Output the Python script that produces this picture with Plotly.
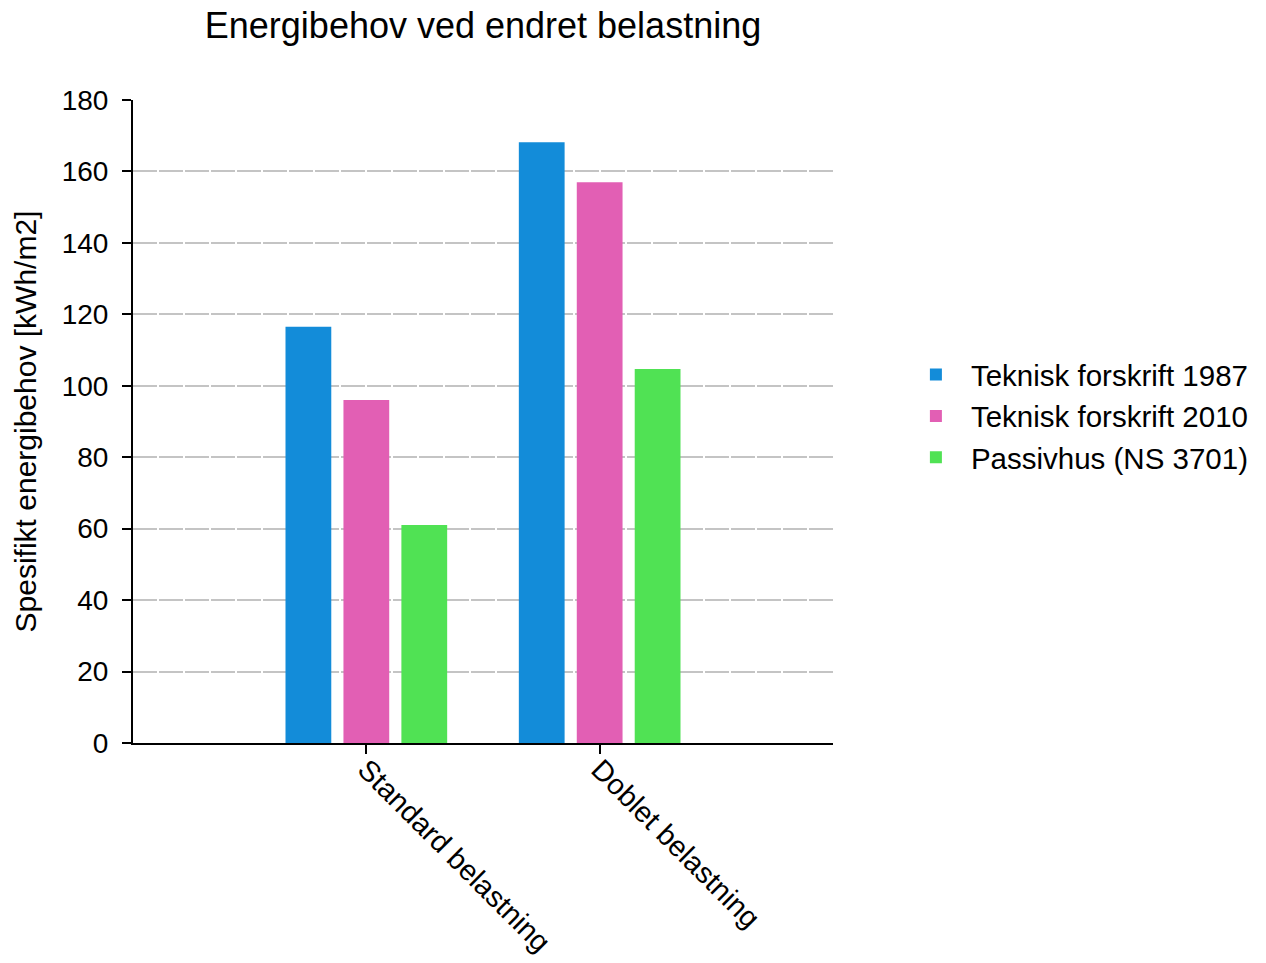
import plotly.graph_objects as go

categories = ["Standard belastning", "Doblet belastning"]
series_names = ["Teknisk forskrift 1987", "Teknisk forskrift 2010", "Passivhus (NS 3701)"]
tf1987 = [116.5, 168.2]
tf2010 = [96.0, 157.0]
passivhus = [61.0, 104.7]
colors = ["#138CD9", "#E25FB4", "#50E254"]
y_ticks = [0, 20, 40, 60, 80, 100, 120, 140, 160, 180]

FONT = "Liberation Sans, Arial, sans-serif"

fig = go.Figure()
for name, vals, col in zip(series_names, [tf1987, tf2010, passivhus], colors):
    fig.add_trace(go.Bar(x=categories, y=vals, name=name,
                         marker=dict(color=col, line=dict(width=0))))

fig.update_layout(
    width=1266, height=963,
    margin=dict(l=133, r=429, t=100, b=220),
    paper_bgcolor="white", plot_bgcolor="white",
    font=dict(family=FONT, size=28, color="black"),
    barmode="group", bargap=0.255, bargroupgap=0.21,
    title=dict(text="Energibehov ved endret belastning", x=0.5, xref="paper",
               xanchor="center", y=0.974, yanchor="middle",
               font=dict(family=FONT, size=36, color="black")),
    legend=dict(x=1.097, xanchor="left", y=0.508, yanchor="middle",
                font=dict(family=FONT, size=29.5, color="black"),
                bgcolor="rgba(0,0,0,0)", itemwidth=60, tracegroupgap=0),
    showlegend=True,
)
fig.update_xaxes(
    type="category", range=[-1, 2], automargin=False,
    showline=True, linecolor="black", linewidth=2,
    ticks="outside", ticklen=9, tickwidth=1.5, tickcolor="black",
    tickangle=45, showgrid=False, zeroline=False, ticklabelstandoff=-13,
    tickfont=dict(family=FONT, size=29, color="black"),
)
fig.update_yaxes(
    range=[0, 180], tickvals=y_ticks, automargin=False,
    showline=True, linecolor="black", linewidth=2,
    ticks="outside", ticklen=9, tickwidth=1.5, tickcolor="black",
    showgrid=True, gridcolor="#c4c4c4", gridwidth=1.5, griddash="24px,2px",
    zeroline=False, ticklabelstandoff=8,
    tickfont=dict(family=FONT, size=28, color="black"),
    title=dict(text="Spesifikt energibehov [kWh/m2]", standoff=16,
               font=dict(family=FONT, size=30, color="black")),
)

fig.write_html("out.html")
